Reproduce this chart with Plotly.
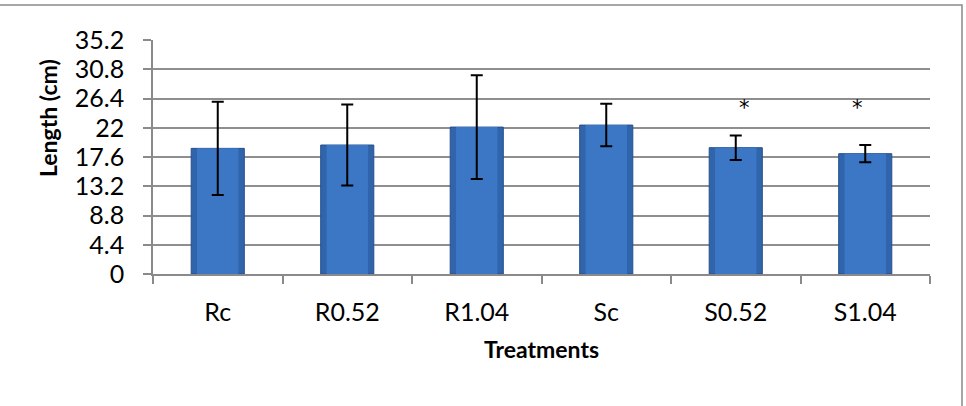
import plotly.graph_objects as go

treatments = ["Rc", "R0.52", "R1.04", "Sc", "S0.52", "S1.04"]
length_cm = [18.9, 19.4, 22.1, 22.4, 19.0, 18.1]
error_cm = [7.0, 6.1, 7.8, 3.2, 1.85, 1.3]
significance = ["", "", "", "", "*", "*"]
sig_level = [25.5, 25.5, 25.5, 25.5, 25.5, 25.5]
y_ticks = [0, 4.4, 8.8, 13.2, 17.6, 22, 26.4, 30.8, 35.2]

FONT = "Lato"

fig = go.Figure()
# outer bar (darker edge)
fig.add_trace(go.Bar(
    x=treatments, y=length_cm, width=0.41,
    marker=dict(color="#3064ab", line=dict(color="#264f8c", width=1)),
    hoverinfo="skip", showlegend=False,
))
# inner lighter body for a soft gradient look
fig.add_trace(go.Bar(
    x=treatments, y=length_cm, width=0.32,
    marker=dict(color="#3b77c5", line=dict(width=0)),
    error_y=dict(type="data", array=error_cm, visible=True,
                 color="black", thickness=2, width=6),
    hoverinfo="skip", showlegend=False,
))

for cat, s, lvl, xs in zip(treatments, significance, sig_level, [0, 0, 0, 0, 9, -8]):
    if s:
        fig.add_annotation(x=cat, y=lvl, text=s, showarrow=False,
                           xshift=xs, yshift=-4, yanchor="middle",
                           font=dict(family="DejaVu Sans", size=21, color="black"))

fig.add_annotation(xref="paper", yref="paper", x=-0.135, y=0.667,
                   xanchor="center", yanchor="middle",
                   text="<b>Length (cm)</b>", textangle=-90, showarrow=False,
                   font=dict(family=FONT, size=23, color="black"))

fig.add_shape(type="rect", xref="paper", yref="paper",
              x0=-0.3, x1=1.0412, y0=-0.8, y1=1.1496,
              line=dict(color="#8a8a8a", width=1.5), layer="below")

fig.update_layout(
    width=966, height=406,
    margin=dict(l=153, r=36, t=40, b=132),
    paper_bgcolor="white", plot_bgcolor="white",
    barmode="overlay",
    font=dict(family=FONT, size=25, color="black"),
    xaxis=dict(
        type="category", showgrid=False,
        showline=True, linecolor="#8a8a8a", linewidth=1.5,
        ticks="outside", tickson="boundaries", ticklen=8,
        tickcolor="#8a8a8a", tickwidth=1.5,
        ticklabelstandoff=15,
        title=dict(text="<b>Treatments</b>", standoff=17,
                   font=dict(family=FONT, size=23)),
        range=[-0.5, 5.5],
    ),
    yaxis=dict(
        range=[0, 35.2], tickvals=y_ticks,
        ticktext=[("%g" % v) for v in y_ticks],
        showgrid=True, gridcolor="#8f8f8f", gridwidth=1.5,
        showline=True, linecolor="#8a8a8a", linewidth=1.5,
        ticks="outside", ticklen=8, tickcolor="#8a8a8a", tickwidth=1.5,
        ticklabelstandoff=14, zeroline=False,
    ),
)

fig.write_html("out.html")
